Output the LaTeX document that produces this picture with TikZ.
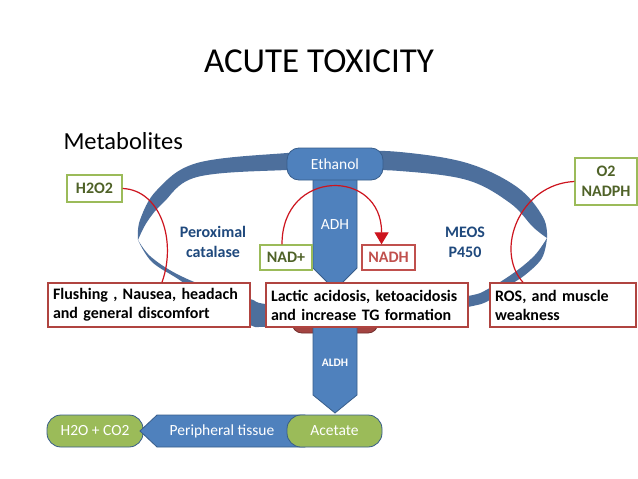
\documentclass[tikz,border=0pt]{standalone}
\usepackage{fontspec}
\setmainfont{Carlito}
\usetikzlibrary{arrows.meta}
\definecolor{bl}{HTML}{4F81BD}
\definecolor{bld}{HTML}{385D8A}
\definecolor{ringc}{RGB}{77,111,156}
\definecolor{gr}{HTML}{9BBB59}
\definecolor{grd}{HTML}{4F6228}
\definecolor{rd}{HTML}{C0504D}
\definecolor{rdd}{HTML}{B04440}
\definecolor{navy}{HTML}{1F497D}
\definecolor{redline}{RGB}{205,20,30}
\tikzset{
  txtbox/.style={draw=rdd, line width=1.3pt, fill=white, font=\fontsize{16}{19}\selectfont\bfseries, align=left, minimum height=44pt, inner xsep=5pt, inner ysep=2pt},
  greenlbl/.style={draw=gr, line width=1.3pt, fill=white, text=grd, font=\fontsize{16}{20}\selectfont\bfseries, align=center, inner sep=0pt},
  redlbl/.style={draw=rd, line width=1.3pt, fill=white, text=rd, font=\fontsize{16}{18}\selectfont\bfseries, inner sep=0pt},
  bluepill/.style={fill=bl, draw=bld, line width=0.8pt, rounded corners=12pt, text=white, font=\fontsize{15.5}{17}\selectfont, inner sep=0pt},
  greenpill/.style={fill=gr, draw=bld, line width=0.8pt, rounded corners=14pt, text=white, font=\fontsize{15.5}{17}\selectfont, inner sep=0pt},
  bluearrow/.style={fill=bl, draw=bld, line width=0.8pt},
  enzyme/.style={text=navy, font=\fontsize{16}{20}\selectfont\bfseries, align=center},
  redcurve/.style={draw=redline, line width=1.2pt},
}
\begin{document}
\begin{tikzpicture}[x=1pt,y=-1pt]
\useasboundingbox (0,0) rectangle (638,479);
\fill[white] (0,0) rectangle (638,479);

% title
\node[font=\fontsize{35}{40}\selectfont] (title) at (319,61) {ACUTE TOXICITY};
\node[font=\fontsize{24.5}{28}\selectfont, anchor=west] (metab) at (60,141) {Metabolites};

% ring: upper half
\fill[ringc] plot[smooth, tension=0.6] coordinates {(138,240) (140,220) (157,190) (197,163) (287,153) (343,151) (400,152) (467,163) (517,187) (543,217) (547,238)}
  -- plot[smooth, tension=0.6] coordinates {(547,238) (533,227) (510,203) (467,180) (400,171) (343,170) (287,170) (197,177) (163,203) (147,222) (138,240)} -- cycle;
% ring: lower half
\fill[ringc] plot[smooth, tension=0.6] coordinates {(138,240) (150,256) (175,273) (210,288) (250,299) (265,304) (330,312) (400,306) (468,296) (488,289) (515,272) (535,255) (547,238)}
  -- plot[smooth, tension=0.6] coordinates {(547,238) (542,258) (525,275) (505,288) (488,301) (468,307) (400,320) (330,327) (265,327) (250,325) (215,307) (181,281) (152,262) (138,240)} -- cycle;

% ADH shaft
\filldraw[bluearrow] (313,176) -- (357,176) -- (357,268) -- (335,290) -- (313,268) -- cycle;
\node[text=white, font=\fontsize{15.5}{17}\selectfont] (adh) at (335,225) {ADH};
\node[bluepill, minimum width=96pt, minimum height=32pt] (ethanol) at (335,164) {Ethanol};

% hidden acetaldehyde shape
\node[fill=rd!85!black, draw=rd!60!black, line width=0.8pt, rounded corners=10pt, minimum width=86pt, minimum height=35pt, inner sep=0pt] (acet) at (335,315.5) {};

% ALDH shaft
\filldraw[bluearrow] (313,322) -- (357,322) -- (357,395) -- (335,413) -- (313,395) -- cycle;
\node[text=white, font=\fontsize{11.5}{13}\selectfont\bfseries] (aldh) at (335,363) {ALDH};

% bottom row
\node[greenpill, minimum width=96pt, minimum height=32pt] (h2o) at (95,431) {H2O + CO2};
\filldraw[bluearrow] (305,415) -- (157,415) -- (140,431) -- (157,447) -- (305,447) -- cycle;
\node[text=white, font=\fontsize{15.5}{17}\selectfont] (periph) at (222,431) {Peripheral tissue};
\node[greenpill, minimum width=95pt, minimum height=32pt] (acetate) at (334.5,431) {Acetate};

% enzyme labels
\node[enzyme] (perox) at (213,242) {Peroximal\\catalase};
\node[enzyme] (meos) at (465,242) {MEOS\\P450};

% cofactor labels
\node[greenlbl, minimum width=55pt, minimum height=27pt] (h2o2) at (94.5,188.5) {H2O2};
\node[greenlbl, minimum width=52pt, minimum height=25pt] (nadp) at (286,257.5) {NAD+};
\node[redlbl, minimum width=53pt, minimum height=25pt] (nadh) at (388.5,257.5) {NADH};
\node[greenlbl, minimum width=62pt, minimum height=47pt] (o2) at (606,181.5) {O2\\NADPH};

% effect boxes
\node[txtbox, text width=192pt] (flush) at (149,305) {\mbox{Flushing , Nausea, headach}\\\mbox{and general discomfort}};
\node[txtbox, text width=192pt] (lactic) at (367,305) {\mbox{Lactic acidosis, ketoacidosis}\\\mbox{and increase TG formation}};
\node[txtbox, text width=136pt] (ros) at (563,305) {\mbox{ROS, and muscle}\\\mbox{weakness}};

% red curves
\draw[redcurve] (h2o2.east) .. controls (160,190) and (177,240) .. ([xshift=13pt]flush.north);
\draw[redcurve] (o2.west) .. controls (520,184) and (494,250) .. ([xshift=-40pt]ros.north);
\draw[redcurve, -{Triangle[length=12pt,width=14pt]}] ([xshift=-4pt]nadp.north) .. controls (282,168) and (382,168) .. ([xshift=-7pt]nadh.north);
\end{tikzpicture}
\end{document}
